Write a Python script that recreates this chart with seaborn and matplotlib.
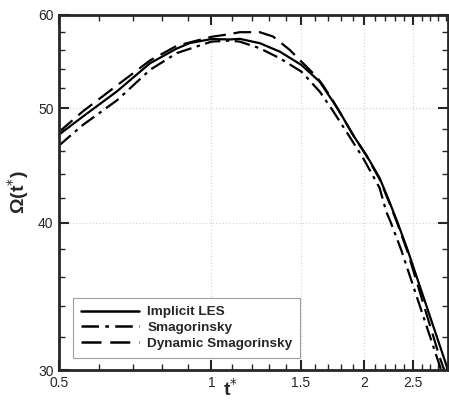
import numpy as np
import pandas as pd
import matplotlib
matplotlib.use("Agg")
import matplotlib.pyplot as plt
import seaborn as sns
from matplotlib.ticker import FixedLocator, FixedFormatter, NullFormatter

sns.set_style("ticks")
plt.rcParams['font.family'] = ['Liberation Sans', 'DejaVu Sans']
plt.rcParams['axes.grid'] = False

# Implicit LES
t_ilse = [0.5, 0.557, 0.651, 0.756, 0.854, 0.906, 1.0, 1.086, 1.137, 1.245, 1.364,
          1.505, 1.635, 1.737, 1.79, 1.902, 2.021, 2.147, 2.246, 2.33, 2.44, 2.93]
w_ilse = [47.5, 49.2, 51.7, 54.6, 56.2, 56.8, 57.25, 57.2, 57.27, 56.79, 55.86,
          54.42, 52.68, 50.67, 49.68, 47.48, 45.65, 43.65, 41.65, 40.0, 37.9, 30.0]
# Smagorinsky
t_smag = [0.5, 0.557, 0.651, 0.756, 0.854, 1.0, 1.086, 1.137, 1.245, 1.364, 1.505,
          1.635, 1.724, 1.846, 1.99, 2.147, 2.213, 2.26, 2.37, 2.84]
w_smag = [46.5, 48.4, 50.8, 53.9, 55.7, 56.96, 57.07, 56.96, 56.23, 55.14, 53.72,
          51.67, 50.0, 47.78, 45.41, 42.81, 40.87, 40.0, 37.9, 30.0]
# Dynamic Smagorinsky
t_dyn = [0.5, 0.557, 0.651, 0.756, 0.854, 1.0, 1.086, 1.137, 1.245, 1.323, 1.427,
         1.505, 1.611, 1.66, 1.737, 1.902, 2.021, 2.147, 2.246, 2.33, 2.44, 2.82, 2.88]
w_dyn = [47.75, 49.7, 52.3, 54.9, 56.5, 57.5, 57.8, 58.02, 58.02, 57.53, 56.05,
         54.78, 53.2, 52.3, 50.75, 47.5, 45.6, 43.55, 41.55, 39.9, 37.75, 30.77, 30.0]

series_names = ["Implicit LES", "Smagorinsky", "Dynamic Smagorinsky"]
x_major = [0.5, 1, 1.5, 2, 2.5]
x_major_labels = ["0.5", "1", "1.5", "2", "2.5"]
y_major = [30, 40, 50, 60]
y_major_labels = ["30", "40", "50", "60"]

df = pd.concat([
    pd.DataFrame({"t": t_ilse, "w": w_ilse, "model": series_names[0]}),
    pd.DataFrame({"t": t_smag, "w": w_smag, "model": series_names[1]}),
    pd.DataFrame({"t": t_dyn, "w": w_dyn, "model": series_names[2]}),
], ignore_index=True)

fig = plt.figure(figsize=(4.49, 4.04), dpi=100)
ax = fig.add_axes([59/449, 1-370/404, 389/449, 355/404])
ax.set_axisbelow(True)

dashes = {series_names[0]: "", series_names[1]: (7, 2.5, 1.5, 2.5),
          series_names[2]: (8, 3.5)}
sns.lineplot(data=df, x="t", y="w", style="model", dashes=dashes, color="black",
             linewidth=1.6, ax=ax, sort=False, estimator=None, legend=True)

ax.set_xscale("log")
ax.set_yscale("log")
ax.set_xlim(0.5, 2.93)
ax.set_ylim(30, 60)

x_minor = [0.6, 0.7, 0.8, 0.9, 1.1, 1.2, 1.3, 1.4, 1.6, 1.7, 1.8, 1.9,
           2.1, 2.2, 2.3, 2.4, 2.6, 2.7, 2.8, 2.9]
y_minor = [32, 34, 36, 38, 42, 44, 46, 48, 52, 54, 56, 58]
ax.xaxis.set_major_locator(FixedLocator(x_major))
ax.xaxis.set_major_formatter(FixedFormatter(x_major_labels))
ax.xaxis.set_minor_locator(FixedLocator(x_minor))
ax.xaxis.set_minor_formatter(NullFormatter())
ax.yaxis.set_major_locator(FixedLocator(y_major))
ax.yaxis.set_major_formatter(FixedFormatter(y_major_labels))
ax.yaxis.set_minor_locator(FixedLocator(y_minor))
ax.yaxis.set_minor_formatter(NullFormatter())

ax.tick_params(which="both", direction="in", top=True, right=True, width=1.5, labelsize=10)
ax.tick_params(which="major", length=7, pad=4)
ax.tick_params(which="minor", length=4, width=1)
for s in ax.spines.values():
    s.set_linewidth(2)

ax.grid(False, which="minor")
ax.grid(True, which="major", color="#d0d0d0", linestyle=(0, (1, 2)), linewidth=0.8)

ax.set_xlabel("t$^{*}$", fontsize=14, fontweight="bold")
ax.xaxis.set_label_coords(0.44, -0.022)
ax.set_ylabel("Ω(t$^{*}$)", fontsize=14, fontweight="bold", labelpad=5)

handles, labels = ax.get_legend_handles_labels()
leg = ax.legend(handles, labels, loc="lower left", bbox_to_anchor=(0.036, 0.034),
                borderaxespad=0, frameon=True, fancybox=False, handlelength=4.3,
                prop={"weight": "bold", "size": 9.7}, labelspacing=0.25,
                borderpad=0.6, handletextpad=0.6)
leg.get_frame().set_edgecolor("#888888")
leg.get_frame().set_linewidth(0.8)
for line in leg.get_lines():
    line.set_linewidth(1.8)

fig.savefig("out.png", dpi=100)
